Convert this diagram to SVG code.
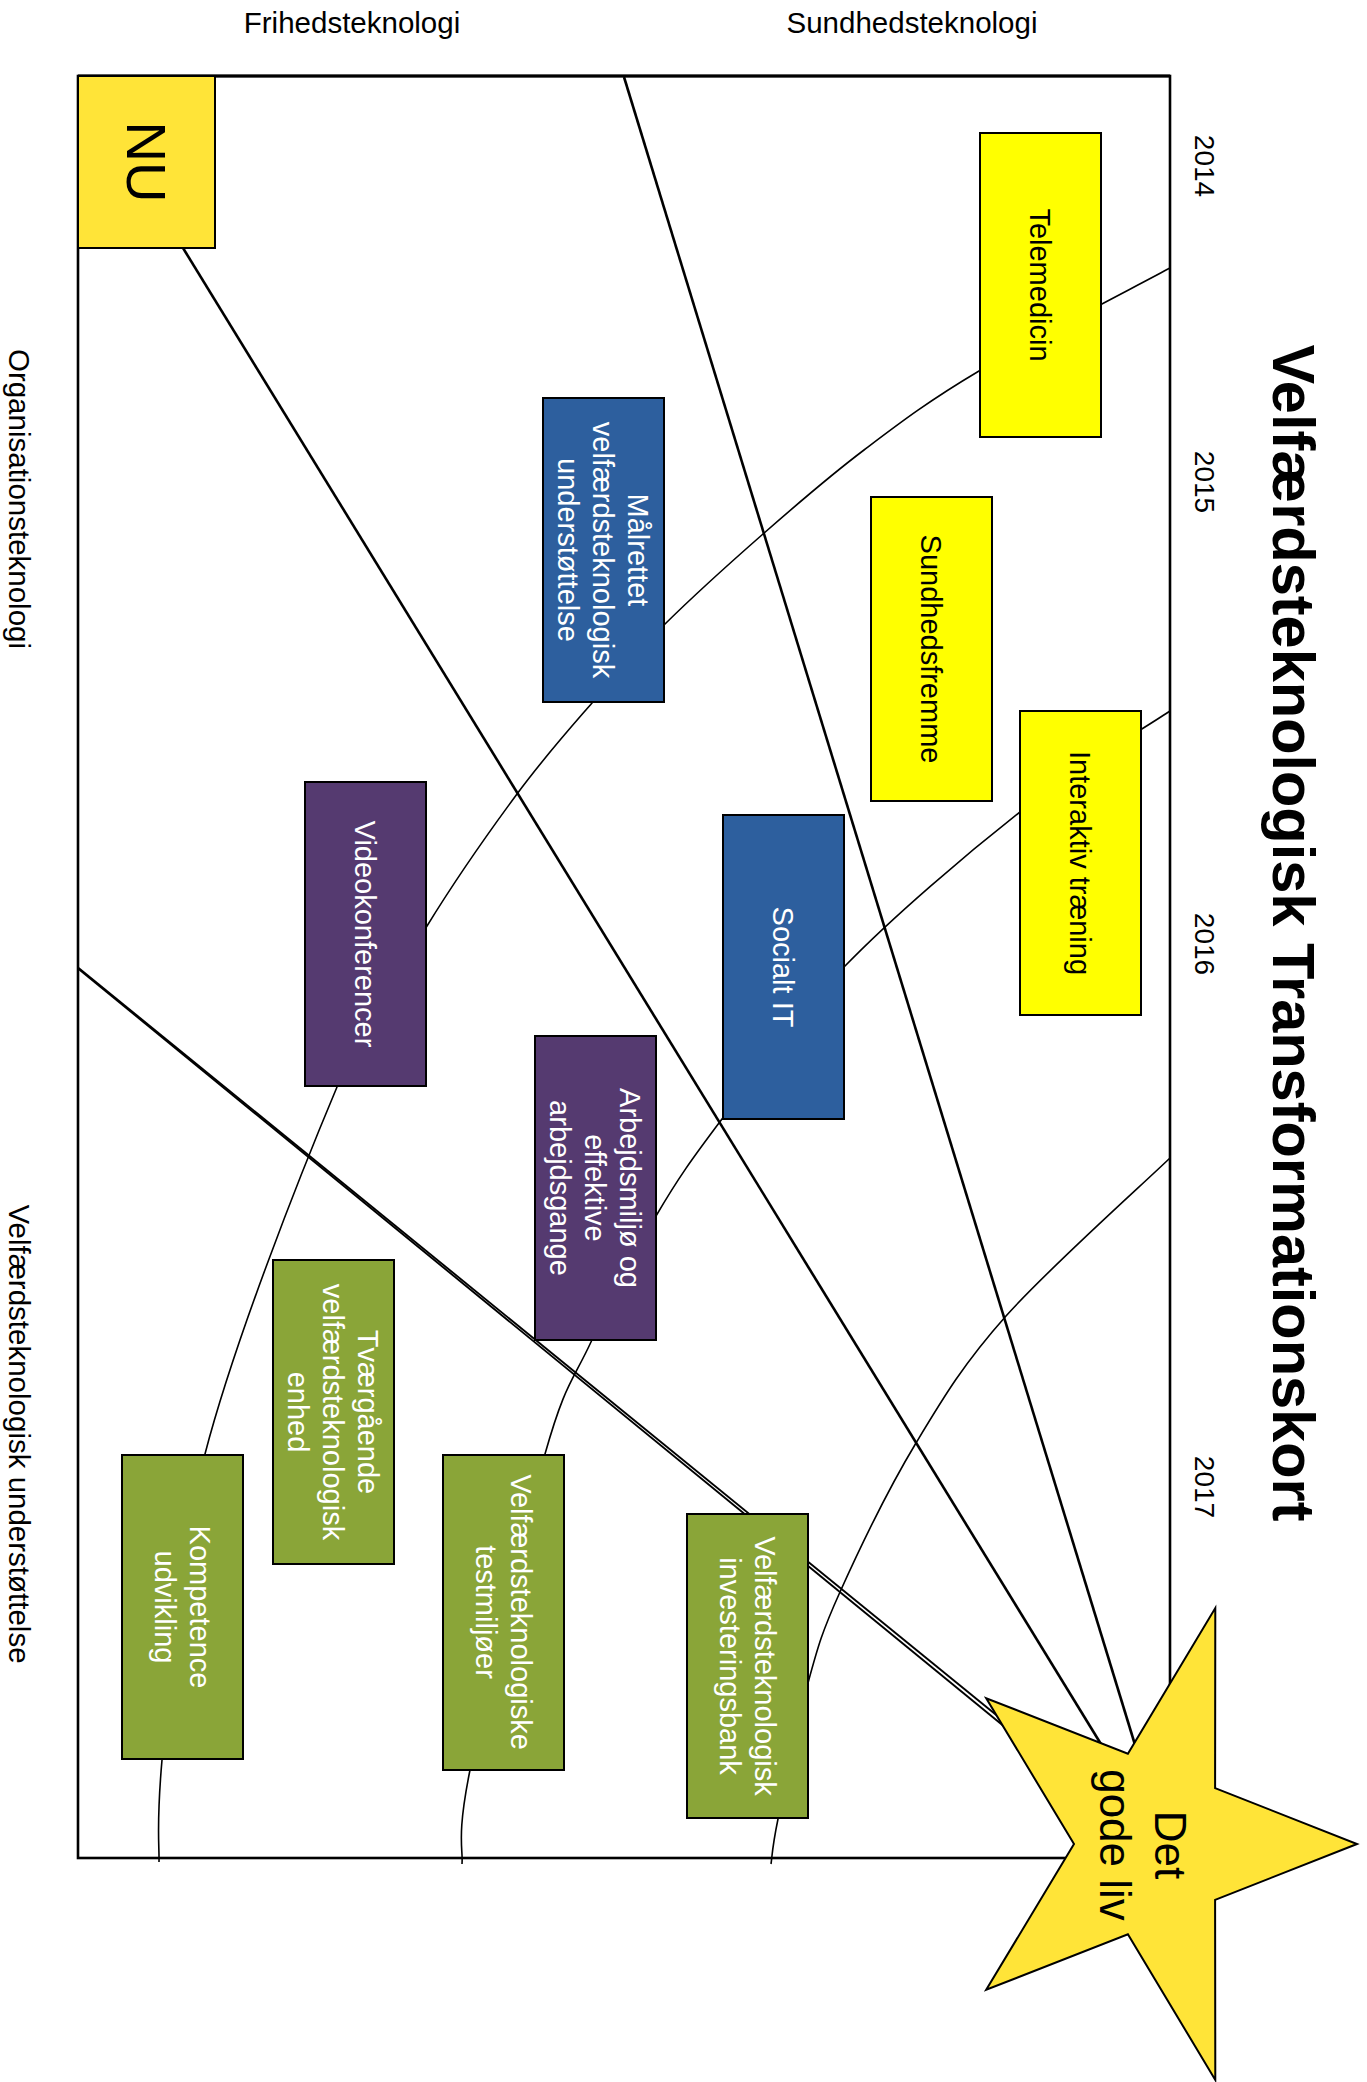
<svg xmlns="http://www.w3.org/2000/svg" width="1367" height="2082" viewBox="0 0 1367 2082">
<style>
.box{stroke:#000;stroke-width:2}
.yel{fill:#FFFF00}.blu{fill:#2D5F9E}.pur{fill:#553A70}.grn{fill:#8AA538}.gold{fill:#FFE438}
.t{font-family:"Liberation Sans",Arial,sans-serif;font-size:29px;text-anchor:middle}
.lab{font-family:"Liberation Sans",Arial,sans-serif;font-size:29.5px;text-anchor:middle;fill:#000}
.yr{font-family:"Liberation Sans",Arial,sans-serif;font-size:28px;text-anchor:middle;fill:#000}
.w{fill:#fff}.k{fill:#000}
.arc{fill:none;stroke:#000;stroke-width:1.6}
.ray{fill:none;stroke:#000;stroke-width:2.6}
.dbl{fill:none;stroke:#000;stroke-width:1.9}
</style>
<rect width="1367" height="2082" fill="#fff"/>
<g id="frame">
<rect x="78" y="76" width="1092" height="1782" fill="none" stroke="#000" stroke-width="2.6"/>
<line x1="78" y1="76" x2="1170" y2="76" stroke="#000" stroke-width="3.2"/>
</g>
<g id="labels">
<text class="lab" x="352" y="33">Frihedsteknologi</text>
<text class="lab" x="912" y="33">Sundhedsteknologi</text>
<text class="lab" transform="rotate(90)" x="499" y="-9">Organisationsteknologi</text>
<text class="lab" transform="rotate(90)" x="1434" y="-9">Velfærdsteknologisk understøttelse</text>
<text transform="rotate(90)" x="933" y="-1273" style="font-family:'Liberation Sans',Arial,sans-serif;font-size:59.5px;font-weight:bold;text-anchor:middle">Velfærdsteknologisk Transformationskort</text>
<text class="yr" transform="rotate(90)" x="166" y="-1195">2014</text>
<text class="yr" transform="rotate(90)" x="482" y="-1195">2015</text>
<text class="yr" transform="rotate(90)" x="944" y="-1195">2016</text>
<text class="yr" transform="rotate(90)" x="1487" y="-1195">2017</text>
</g>
<g id="connectors">
<path class="arc" d="M1170,268 C1138.2,285.2 1030,340.7 979,371 C928,401.3 900,422.8 864,450 C828,477.2 796.3,504.8 763,534 C729.7,563.2 692.5,596.8 664,625 C635.5,653.2 616.5,674.8 592,703 C567.5,731.2 544.5,756.8 517,794 C489.5,831.2 457,877.2 427,926 C397,974.8 374,999 337,1087 C300,1175 234.2,1341.8 205,1454 C175.8,1566.2 169.7,1692 162,1760 C156,1828 159.5,1845 159,1862"/>
<path class="arc" d="M1170,711 C1145,727.8 1074.3,769.3 1020,812 C965.7,854.7 893.7,915.8 844,967 C794.3,1018.2 753.3,1077.5 722,1119 C690.7,1160.5 677.8,1178.8 656,1216 C634.2,1253.2 609.5,1302.3 591,1342 C572.5,1381.7 565.2,1382.7 545,1454 C524.8,1525.3 483.8,1701.7 470,1770 C456.2,1838.3 463.3,1848.3 462,1864"/>
<path class="arc" d="M1170,1158 C1142.7,1184.3 1048.3,1268.5 1006,1316 C963.7,1363.5 943.7,1397 916,1443 C888.3,1489 858,1552 840,1592 C822,1632 818.3,1645.2 808,1683 C797.7,1720.8 784.2,1788.8 778,1819 C771.8,1849.2 772.2,1856.5 771,1864"/>
<line class="ray" x1="624" y1="77" x2="1136" y2="1748"/>
<line class="ray" x1="183" y1="248" x2="1104" y2="1749"/>
<line class="dbl" x1="78" y1="967.5" x2="1006.4" y2="1723.2"/>
<line class="dbl" x1="78" y1="968.5" x2="1004.2" y2="1726.4"/>
</g>
<g id="nu">
<rect class="box gold" x="78" y="76" width="137" height="172" stroke-width="1.6"/>
<text class="k" transform="rotate(90)" x="162" y="-127" style="font-family:'Liberation Sans',Arial,sans-serif;font-size:56px;text-anchor:middle">NU</text>
</g>
<g id="telemedicin">
<rect class="box yel" x="980" y="133" width="121" height="304"/>
<text class="t k" transform="rotate(90)" x="285" y="-1030.1">Telemedicin</text>
</g>
<g id="sundhedsfremme">
<rect class="box yel" x="871" y="497" width="121" height="304"/>
<text class="t k" transform="rotate(90)" x="649" y="-921.1">Sundhedsfremme</text>
</g>
<g id="interaktiv">
<rect class="box yel" x="1020" y="711" width="121" height="304"/>
<text class="t k" transform="rotate(90)" x="863" y="-1070.1">Interaktiv træning</text>
</g>
<g id="maalrettet">
<rect class="box blu" x="543" y="398" width="121" height="304"/>
<text class="t w" transform="rotate(90)"><tspan x="550" y="-628.1">Målrettet</tspan><tspan x="550" y="-593.1">velfærdsteknologisk</tspan><tspan x="550" y="-558.1">understøttelse</tspan></text>
</g>
<g id="socialt">
<rect class="box blu" x="723" y="815" width="121" height="304"/>
<text class="t w" transform="rotate(90)" x="967" y="-773.1">Socialt IT</text>
</g>
<g id="video">
<rect class="box pur" x="305" y="782" width="121" height="304"/>
<text class="t w" transform="rotate(90)" x="934" y="-355.1">Videokonferencer</text>
</g>
<g id="arbejdsmiljo">
<rect class="box pur" x="535" y="1036" width="121" height="304"/>
<text class="t w" transform="rotate(90)"><tspan x="1188" y="-620.1">Arbejdsmiljø og</tspan><tspan x="1188" y="-585.1">effektive</tspan><tspan x="1188" y="-550.1">arbejdsgange</tspan></text>
</g>
<g id="tvaergaaende">
<rect class="box grn" x="273" y="1260" width="121" height="304"/>
<text class="t w" transform="rotate(90)"><tspan x="1412" y="-358.1">Tværgående</tspan><tspan x="1412" y="-323.1">velfærdsteknologisk</tspan><tspan x="1412" y="-288.1">enhed</tspan></text>
</g>
<g id="kompetence">
<rect class="box grn" x="122" y="1455" width="121" height="304"/>
<text class="t w" transform="rotate(90)"><tspan x="1607" y="-189.6">Kompetence</tspan><tspan x="1607" y="-154.6">udvikling</tspan></text>
</g>
<g id="testmiljoer">
<rect class="box grn" x="443" y="1455" width="121" height="315"/>
<text class="t w" transform="rotate(90)"><tspan x="1612" y="-510.6">Velfærdsteknologiske</tspan><tspan x="1612" y="-475.6">testmiljøer</tspan></text>
</g>
<g id="investeringsbank">
<rect class="box grn" x="687" y="1514" width="121" height="304"/>
<text class="t w" transform="rotate(90)"><tspan x="1666" y="-754.6">Velfærdsteknologisk</tspan><tspan x="1666" y="-719.6">investeringsbank</tspan></text>
</g>
<g id="det-gode-liv">
<polygon class="gold" stroke="#000" stroke-width="2" points="1357,1844 1215.1,1899.9 1215.3,2079.9 1127.9,1934.3 986.2,1989.8 1074,1844 986.2,1698.2 1127.9,1753.7 1215.3,1608.1 1215.1,1788.1"/>
<text class="k" transform="rotate(90)" style="font-family:'Liberation Sans',Arial,sans-serif;font-size:44px;text-anchor:middle"><tspan x="1845" y="-1155">Det</tspan><tspan x="1845" y="-1100">gode liv</tspan></text>
</g>
</svg>
